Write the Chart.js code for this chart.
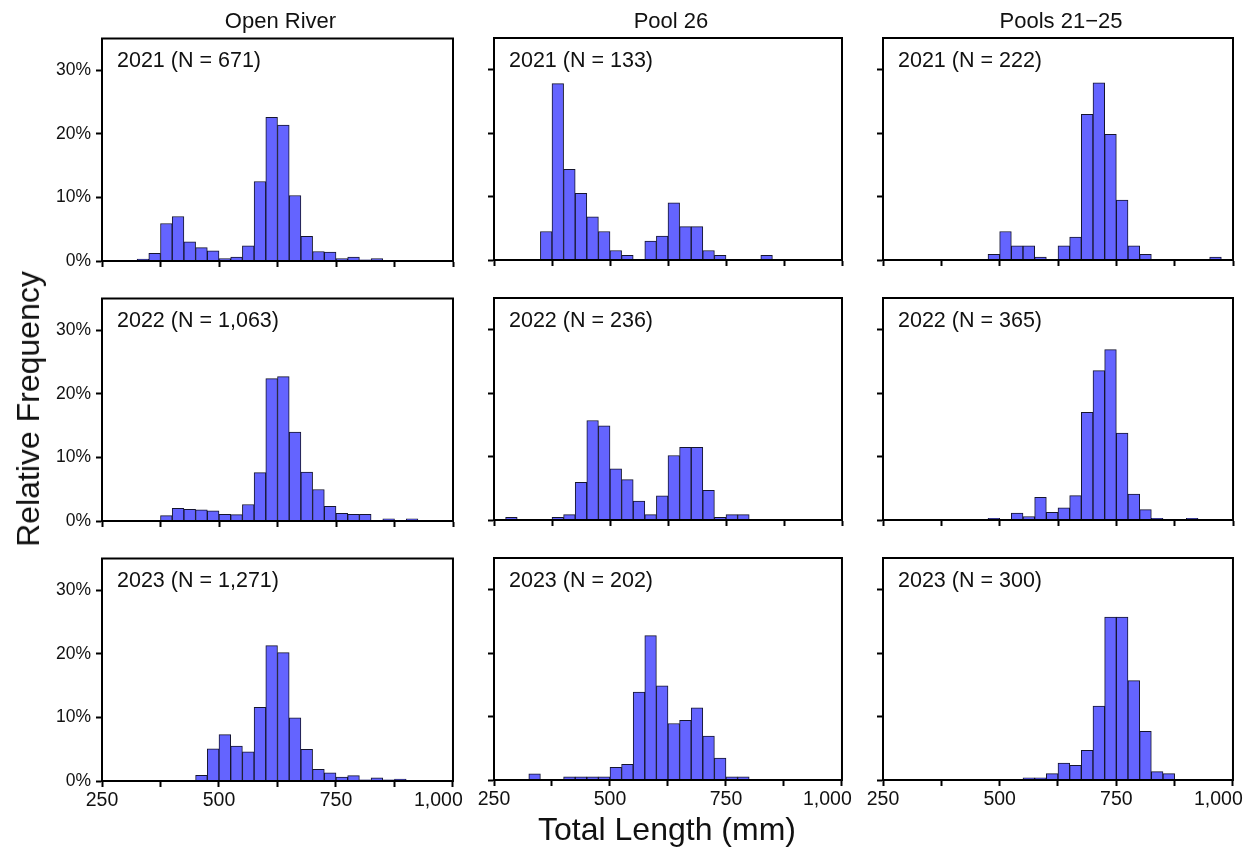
<!DOCTYPE html>
<html>
<head>
<meta charset="utf-8">
<title>Total length histograms</title>
<script src="https://cdn.jsdelivr.net/npm/chart.js@4.4.1/dist/chart.umd.min.js"></script>
<style>
  body { margin: 0; background: #fff; }
  #wrap { position: relative; width: 1255px; height: 853px; overflow: hidden; background: #fff;
          font-family: "Liberation Sans", Arial, sans-serif; color: #111; }
  #wrap canvas { position: absolute; }
  .lbl { position: absolute; white-space: nowrap; }
</style>
</head>
<body>
<div id="wrap"></div>
<script>
// 25 mm length bins from 250 to 1000 mm (bin centres)
const binCenters = [262.5, 287.5, 312.5, 337.5, 362.5, 387.5, 412.5, 437.5, 462.5, 487.5,
                    512.5, 537.5, 562.5, 587.5, 612.5, 637.5, 662.5, 687.5, 712.5, 737.5,
                    762.5, 787.5, 812.5, 837.5, 862.5, 887.5, 912.5, 937.5, 962.5, 987.5];

const columnTitles = ['Open River', 'Pool 26', 'Pools 21\u221225'];
const years = ['2021', '2022', '2023'];
const sampleSizes = [['671', '133', '222'], ['1,063', '236', '365'], ['1,271', '202', '300']];
const yTickValues = [0, 10, 20, 30];
// the last label sits a little left of its tick in the original, hence the trailing spaces
const xTickLabels = { 250: '250', 500: '500', 750: '750', 1000: '1,000\u2002\u2002\u2002' };

// relative frequency (%) per bin
const openRiver2021 = [0,0,0,0.3,1.2,5.9,7.0,3.0,2.1,1.6, 0.4,0.6,2.4,12.5,22.6,21.4,10.3,3.9,1.5,1.4, 0.4,0.6,0.2,0.4,0,0,0,0,0,0];
const pool26_2021   = [0,0,0,0,4.5,27.8,14.3,10.5,6.8,4.5, 1.5,0.75,0,3.0,3.76,9.0,5.26,5.26,1.5,0.75, 0,0,0,0.75,0,0,0,0,0,0];
const pools2125_2021 = [0,0,0,0,0,0,0,0,0,0.9, 4.5,2.25,2.25,0.45,0,2.25,3.6,22.97,27.93,19.82, 9.46,2.25,0.9,0,0,0,0,0,0.45,0];

const openRiver2022 = [0,0,0,0,0,0.85,2.0,1.85,1.75,1.6, 1.05,1.0,2.6,7.6,22.4,22.7,14.0,7.7,4.95,2.3, 1.2,1.05,1.05,0,0.35,0,0.35,0,0,0];
const pool26_2022   = [0,0.42,0,0,0,0.42,0.85,5.93,15.68,14.83, 8.05,6.36,2.97,0.85,3.81,10.17,11.44,11.44,4.66,0.42, 0.85,0.85,0,0,0,0,0,0,0,0];
const pools2125_2022 = [0,0,0,0,0,0,0,0,0,0.27, 0,1.1,0.55,3.56,1.2,1.92,3.84,16.99,23.56,26.85, 13.7,4.1,1.64,0.27,0,0,0.27,0,0,0];

const openRiver2023 = [0,0,0,0,0,0,0,0,0.9,5.05, 7.3,5.5,4.6,11.6,21.3,20.2,9.95,5.0,1.85,1.3, 0.6,0.85,0.2,0.5,0.2,0.3,0,0,0,0];
const pool26_2023   = [0,0,0,0.99,0,0,0.5,0.5,0.5,0.5, 1.98,2.48,13.86,22.77,14.85,8.91,9.41,11.39,6.93,3.47, 0.5,0.5,0,0,0,0,0,0,0,0];
const pools2125_2023 = [0,0,0,0,0,0,0,0,0,0, 0,0,0.33,0.33,1.0,2.67,2.33,4.67,11.67,25.67, 25.67,15.67,7.67,1.33,1.0,0,0,0,0,0];

const freq = [
  [openRiver2021, pool26_2021, pools2125_2021],
  [openRiver2022, pool26_2022, pools2125_2022],
  [openRiver2023, pool26_2023, pools2125_2023]
];

// plot-area placement
const colLeft = [102, 494, 883];
const colWidth = [351, 348, 350];
const rowTop = [38, 298, 558];
const rowHeight = 222;

Chart.defaults.font.family = '"Liberation Sans", Arial, sans-serif';
Chart.defaults.color = '#111';

const wrap = document.getElementById('wrap');

// black box round the plot area
const frame = {
  id: 'frame',
  afterDraw(chart) {
    const a = chart.chartArea, ctx = chart.ctx;
    ctx.save();
    ctx.strokeStyle = '#000';
    ctx.lineWidth = 2;
    ctx.strokeRect(a.left, a.top, a.right - a.left, a.bottom - a.top);
    ctx.restore();
  }
};

function config(r, c) {
  return {
    type: 'bar',
    data: {
      datasets: [{
        data: binCenters.map((x, i) => ({ x: x, y: freq[r][c][i] || null })),
        backgroundColor: '#6464FF',
        borderColor: '#15152e',
        borderWidth: 1,
        barPercentage: 1,
        categoryPercentage: 1
      }]
    },
    options: {
      responsive: false,
      maintainAspectRatio: false,
      animation: false,
      layout: { padding: { top: 4, right: 4, left: 0, bottom: 0 } },
      plugins: { legend: { display: false }, tooltip: { enabled: false } },
      scales: {
        x: {
          type: 'linear', min: 250, max: 1000, offset: false,
          ticks: {
            stepSize: 125, display: r === 2, autoSkip: false, maxRotation: 0, padding: 2,
            font: { size: 19.5 }, color: '#111',
            callback: v => xTickLabels[v] || ''
          },
          grid: { offset: false, drawOnChartArea: false, drawTicks: true, tickLength: 6, tickWidth: 2, tickColor: '#000' },
          border: { display: true, color: '#000', width: 2 },
          afterFit: s => { s.height = 40; }
        },
        y: {
          min: 0, max: 35,
          ticks: {
            stepSize: 10, display: c === 0, padding: 5,
            font: { size: 17.5 }, color: '#111',
            callback: v => v + '%'
          },
          afterBuildTicks: s => { s.ticks = s.ticks.filter(t => yTickValues.includes(t.value)); },
          grid: { drawOnChartArea: false, drawTicks: true, tickLength: 6, tickWidth: 2, tickColor: '#000' },
          border: { display: true, color: '#000', width: 2 },
          afterFit: s => { s.width = 70; }
        }
      }
    },
    plugins: [frame]
  };
}

function makeCanvas(w, h) {
  const cv = document.createElement('canvas');
  cv.width = w; cv.height = h;
  cv.style.width = w + 'px'; cv.style.height = h + 'px';
  wrap.appendChild(cv);
  return cv;
}

for (let r = 0; r < 3; r++) {
  for (let c = 0; c < 3; c++) {
    // first pass to measure the margins Chart.js keeps round the plot area
    const w0 = colWidth[c] + 120, h0 = rowHeight + 60;
    let cv = makeCanvas(w0, h0);
    let chart = new Chart(cv, config(r, c));
    const a = chart.chartArea;
    const w = Math.round(colWidth[c] + w0 - (a.right - a.left));
    const h = Math.round(rowHeight + h0 - (a.bottom - a.top));
    chart.destroy();
    cv.remove();

    cv = makeCanvas(w, h);
    chart = new Chart(cv, config(r, c));
    const b = chart.chartArea;
    cv.style.left = (colLeft[c] - b.left) + 'px';
    cv.style.top = (rowTop[r] - b.top) + 'px';

    const note = document.createElement('div');
    note.className = 'lbl';
    note.style.cssText = 'left:' + (colLeft[c] + 15) + 'px;top:' + (rowTop[r] + 12) + 'px;font-size:21.5px;line-height:21px;';
    note.textContent = years[r] + ' (N = ' + sampleSizes[r][c] + ')';
    wrap.appendChild(note);
  }
}

columnTitles.forEach((t, c) => {
  const d = document.createElement('div');
  d.className = 'lbl';
  d.style.cssText = 'left:' + (colLeft[c] + colWidth[c] / 2 + 3) + 'px;top:10px;font-size:22px;line-height:22px;transform:translateX(-50%);';
  d.textContent = t;
  wrap.appendChild(d);
});

const xTitle = document.createElement('div');
xTitle.className = 'lbl';
xTitle.style.cssText = 'left:667px;top:813px;font-size:32px;line-height:32px;transform:translateX(-50%);';
xTitle.textContent = 'Total Length (mm)';
wrap.appendChild(xTitle);

const yTitle = document.createElement('div');
yTitle.className = 'lbl';
yTitle.style.cssText = 'left:28px;top:409px;font-size:32px;line-height:32px;transform:translate(-50%,-50%) rotate(-90deg);';
yTitle.textContent = 'Relative Frequency';
wrap.appendChild(yTitle);
</script>
</body>
</html>
